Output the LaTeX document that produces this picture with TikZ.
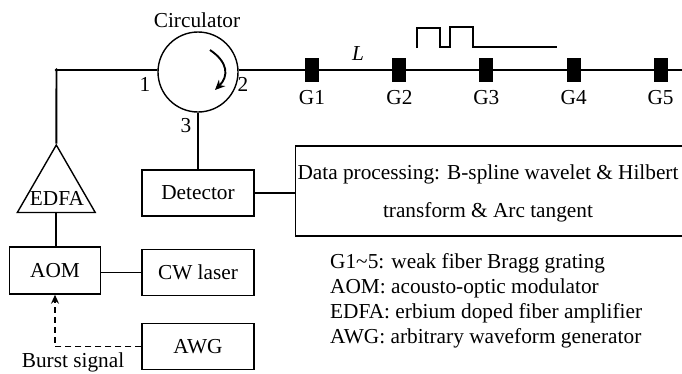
\documentclass[tikz,border=0pt]{standalone}
\usepackage{fontspec}
\setmainfont{Liberation Serif}
\usetikzlibrary{arrows.meta}
\usetikzlibrary{positioning}
\usetikzlibrary{shapes.geometric}
\tikzset {
  fiber path/.style = {
    draw = black,
    line width = 1.9pt
  },
  % thinner path for the drive signal
  signal path/.style = {
    draw = black,
    line width = 1.7pt,
    dash pattern = on 6pt off 4pt,
    -{Stealth[length = 9pt, width = 8pt]}
  },
  pulse path/.style = {
    draw = black,
    line width = 1.4pt
  }
}
\tikzset {
  % instrument box
  device/.style = {
    draw = black,
    line width = 1.4pt,
    rectangle,
    minimum width = 112pt,
    minimum height = 46pt,
    inner sep = 0
  },
  % fiber Bragg grating
  grating/.style = {
    fill = black,
    rectangle,
    minimum width = 14pt,
    minimum height = 24pt,
    inner sep = 0
  },
  gname/.style = {
    inner sep = 0
  },
  port/.style = {
    inner sep = 0
  },
  every node/.append style = {
    font = \fontsize{21.3}{25}\selectfont
  }
}
\begin{document}
\begin{tikzpicture}[x=1pt,y=-1pt]
    \useasboundingbox (0,0) rectangle (682,373);
    \clip (0,0) rectangle (682,373);

    \node[circle, draw = black, line width = 1.4pt, minimum size = 80pt, inner sep = 0] (circ) at (198,72) {};
    \node[inner sep = 0] (circ-name) at (197,20) {Circulator};
    \coordinate (corner) at (56.5,70);
    \node[port] (port1) at (145,84) {1};
    \node[port] (port2) at (243,84) {2};
    \node[port] (port3) at (186,126) {3};
    \coordinate (arrow-start) at (210,50);
    \coordinate (arrow-end) at (215,90);
    \coordinate (line-end) at (682,70);
    \coordinate (circ-in) at (circ.west |- corner);
    \coordinate (circ-out) at (circ.east |- corner);

    \node[grating] (g1) at (312,70) {};
    \node[grating] (g2) [right=73pt of g1] {};
    \node[grating] (g3) [right=72.5pt of g2] {};
    \node[grating] (g4) [right=73pt of g3] {};
    \node[grating] (g5) [right=72.5pt of g4] {};
    \node[gname] (g1-name) [below=8pt of g1] {G1};
    \node[gname] (g2-name) [below=8pt of g2] {G2};
    \node[gname] (g3-name) [below=8pt of g3] {G3};
    \node[gname] (g4-name) [below=8pt of g4] {G4};
    \node[gname] (g5-name) [below=8pt of g5] {G5};
    \node[inner sep = 0] (length) at (358,54) {\textit{L}};

    \node[regular polygon, regular polygon sides = 3, draw = black, line width = 1.4pt, minimum size = 90pt, inner sep = 0] (edfa) at (56.3,190) {};
    \node[inner sep = 0] (edfa-name) at (57,198) {EDFA};
    \node[device, minimum width = 90.5pt, minimum height = 47pt] (aom) at (55,270.5) {AOM};
    \node[device] (detector) at (198,193) {Detector};
    \node[device] (cw) at (198,272.5) {CW laser};
    \node[device] (awg) at (198,346.5) {AWG};
    \node[device, minimum width = 400pt, minimum height = 90pt, anchor = west] (data) at (295,191) {};
    \node[align = center, inner sep = 0] (data-text) at (488,193)
      {Data processing: B-spline wavelet \& Hilbert\\[13pt]transform \& Arc tangent};
    \node[align = left, inner sep = 0, anchor = west] (legend) at (330,300.5)
      {G1\textasciitilde5: weak fiber Bragg grating\\
       AOM: acousto-optic modulator\\
       EDFA: erbium doped fiber amplifier\\
       AWG: arbitrary waveform generator};
    \node[inner sep = 0] (burst) at (73,362.5) {Burst signal};

    \draw[fiber path] (circ-in) -- (corner) -- (edfa.corner 1);
    \fill (corner) circle (1.8pt);
    \draw[fiber path] (circ-out) -- (line-end);
    \draw[fiber path] (circ.south) -- (detector.north);
    \draw[fiber path] (edfa.side 2) -- (edfa.side 2 |- aom.north);
    \draw[fiber path] (cw.west) -- (cw.west -| aom.east);
    \draw[fiber path] (detector.east) -- (detector.east -| data.west);
    \draw[signal path] (awg.west) -| (aom.south);
    \draw[line width = 1.9pt, -{Stealth[length = 10pt, width = 9pt]}] (arrow-start) .. controls (228,62) and (229,76) .. (arrow-end);
    \draw[pulse path] (417,48) -- (417,28) -- (440,28) -- (440,47) -- (450,47)
    -- (450,27) -- (473,27) -- (473,47) -- (557,47);
  \end{tikzpicture}
\end{document}
